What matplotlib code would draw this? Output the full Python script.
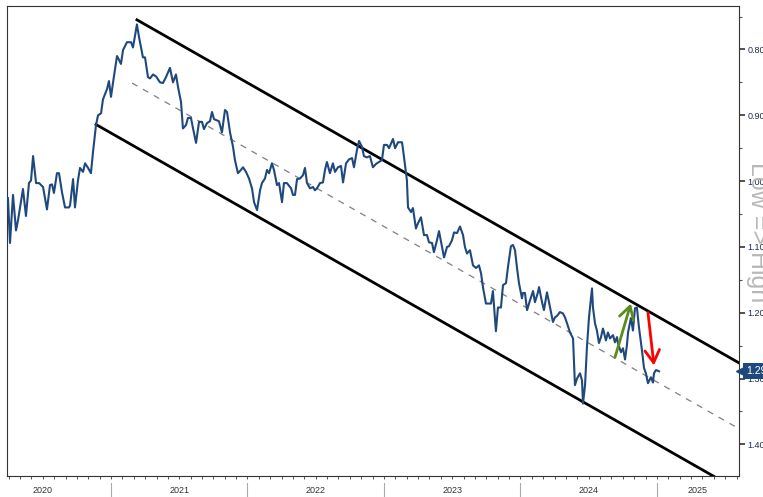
import numpy as np
import matplotlib
matplotlib.use("Agg")
from matplotlib import pyplot as plt
from matplotlib.ticker import MultipleLocator, FixedLocator, NullFormatter
import matplotlib.transforms as mtransforms

# weekly series, x in decimal years, y (inverted axis)
t = [2020.245, 2020.260, 2020.282, 2020.304, 2020.319, 2020.355, 2020.377, 2020.399, 2020.414, 2020.429,
     2020.451, 2020.473, 2020.502, 2020.531, 2020.553, 2020.568, 2020.582, 2020.604, 2020.619, 2020.641,
     2020.663, 2020.692, 2020.700, 2020.722, 2020.736, 2020.758, 2020.773, 2020.795, 2020.810, 2020.832,
     2020.853, 2020.868, 2020.890, 2020.905, 2020.927, 2020.941, 2020.971, 2020.985, 2021.000, 2021.015,
     2021.044, 2021.059, 2021.073, 2021.088, 2021.117, 2021.147, 2021.161, 2021.190, 2021.205, 2021.234,
     2021.249, 2021.271, 2021.286, 2021.308, 2021.330, 2021.359, 2021.381, 2021.403, 2021.432, 2021.454,
     2021.476, 2021.491, 2021.513, 2021.527, 2021.549, 2021.564, 2021.586, 2021.601, 2021.623, 2021.645,
     2021.667, 2021.681, 2021.703, 2021.725, 2021.740, 2021.755, 2021.791, 2021.813, 2021.835, 2021.850,
     2021.872, 2021.894, 2021.908, 2021.930, 2021.952, 2021.967, 2021.989, 2022.011, 2022.033, 2022.048,
     2022.070, 2022.092, 2022.106, 2022.128, 2022.143, 2022.158, 2022.179, 2022.194, 2022.216, 2022.231,
     2022.253, 2022.267, 2022.289, 2022.319, 2022.333, 2022.348, 2022.363, 2022.385, 2022.407, 2022.421,
     2022.436, 2022.458, 2022.480, 2022.494, 2022.509, 2022.531, 2022.553, 2022.568, 2022.582, 2022.604,
     2022.626, 2022.641, 2022.663, 2022.685, 2022.700, 2022.722, 2022.744, 2022.766, 2022.780, 2022.802,
     2022.817, 2022.839, 2022.853, 2022.875, 2022.897, 2022.919, 2022.941, 2022.963, 2022.985, 2023.000,
     2023.022, 2023.037, 2023.066, 2023.081, 2023.103, 2023.132, 2023.147, 2023.168, 2023.176, 2023.198,
     2023.212, 2023.234, 2023.249, 2023.271, 2023.293, 2023.315, 2023.330, 2023.352, 2023.366, 2023.388,
     2023.403, 2023.425, 2023.440, 2023.462, 2023.476, 2023.498, 2023.513, 2023.535, 2023.557, 2023.579,
     2023.593, 2023.608, 2023.630, 2023.652, 2023.674, 2023.696, 2023.711, 2023.725, 2023.747, 2023.784,
     2023.798, 2023.820, 2023.835, 2023.857, 2023.872, 2023.894, 2023.908, 2023.930, 2023.945, 2023.960,
     2023.974, 2023.989, 2024.011, 2024.018, 2024.033, 2024.048, 2024.070, 2024.092, 2024.106, 2024.128,
     2024.136, 2024.158, 2024.172, 2024.194, 2024.209, 2024.238, 2024.253, 2024.267, 2024.289, 2024.311,
     2024.326, 2024.341, 2024.363, 2024.385, 2024.399, 2024.414, 2024.436, 2024.451, 2024.458, 2024.473,
     2024.487, 2024.502, 2024.524, 2024.531, 2024.546, 2024.560, 2024.575, 2024.590, 2024.604, 2024.612,
     2024.626, 2024.641, 2024.656, 2024.678, 2024.692, 2024.707, 2024.714, 2024.736, 2024.751, 2024.766,
     2024.780, 2024.788, 2024.809, 2024.824, 2024.839, 2024.853, 2024.868, 2024.890, 2024.905, 2024.919,
     2024.934, 2024.956, 2024.971, 2024.978, 2024.993, 2025.015]
v = [1.026, 1.094, 1.021, 1.075, 1.059, 1.012, 1.053, 1.003, 0.999, 0.962,
     1.003, 1.003, 1.009, 1.043, 1.006, 1.005, 1.018, 0.988, 0.988, 1.017,
     1.040, 1.040, 1.037, 0.997, 1.040, 0.999, 0.980, 0.986, 0.973, 0.980,
     0.988, 0.956, 0.915, 0.900, 0.897, 0.876, 0.860, 0.848, 0.872, 0.850,
     0.810, 0.816, 0.822, 0.801, 0.789, 0.789, 0.797, 0.762, 0.781, 0.812,
     0.812, 0.842, 0.844, 0.838, 0.841, 0.850, 0.851, 0.842, 0.828, 0.850,
     0.838, 0.857, 0.880, 0.920, 0.915, 0.904, 0.904, 0.920, 0.942, 0.910,
     0.910, 0.921, 0.912, 0.909, 0.895, 0.906, 0.909, 0.926, 0.892, 0.895,
     0.926, 0.948, 0.968, 0.988, 0.983, 0.979, 0.986, 0.996, 1.011, 1.032,
     1.044, 1.014, 1.003, 0.996, 0.983, 0.988, 0.973, 0.983, 1.006, 1.003,
     1.032, 1.003, 1.003, 1.011, 1.021, 1.021, 0.997, 0.996, 0.991, 0.980,
     1.003, 1.011, 1.009, 1.014, 1.011, 1.003, 1.002, 0.983, 0.971, 0.988,
     0.973, 0.986, 0.979, 0.977, 1.002, 0.973, 0.967, 0.965, 0.979, 0.953,
     0.939, 0.948, 0.962, 0.964, 0.962, 0.979, 0.974, 0.971, 0.968, 0.945,
     0.945, 0.950, 0.936, 0.950, 0.941, 0.941, 0.964, 0.999, 1.040, 1.047,
     1.041, 1.072, 1.064, 1.055, 1.082, 1.082, 1.093, 1.094, 1.108, 1.090,
     1.076, 1.100, 1.116, 1.100, 1.099, 1.090, 1.078, 1.079, 1.069, 1.082,
     1.100, 1.110, 1.105, 1.128, 1.132, 1.128, 1.140, 1.161, 1.186, 1.186,
     1.167, 1.228, 1.192, 1.192, 1.158, 1.155, 1.131, 1.099, 1.097, 1.105,
     1.131, 1.155, 1.178, 1.170, 1.170, 1.196, 1.181, 1.167, 1.184, 1.169,
     1.161, 1.184, 1.196, 1.169, 1.184, 1.214, 1.207, 1.205, 1.199, 1.201,
     1.207, 1.216, 1.230, 1.239, 1.310, 1.300, 1.292, 1.303, 1.338, 1.310,
     1.252, 1.207, 1.163, 1.192, 1.216, 1.227, 1.246, 1.237, 1.224, 1.230,
     1.242, 1.230, 1.239, 1.234, 1.245, 1.237, 1.246, 1.260, 1.254, 1.271,
     1.249, 1.230, 1.208, 1.227, 1.193, 1.192, 1.222, 1.257, 1.284, 1.292,
     1.307, 1.298, 1.306, 1.292, 1.287, 1.289]

# channel lines (start, end)
upper_t = [2021.190, 2025.608]
upper_v = [0.755, 1.277]
lower_t = [2020.890, 2025.700]
lower_v = [0.914, 1.482]
mid_t = [2021.154, 2025.608]
mid_v = [0.851, 1.377]

# arrows (from, to)
green_arrow = [(2024.692, 1.268), (2024.809, 1.186)]
red_arrow = [(2024.934, 1.200), (2024.978, 1.280)]

years = [2020, 2021, 2022, 2023, 2024, 2025]
year_centers = [2020.5, 2021.5, 2022.5, 2023.5, 2024.5, 2025.3]
yticks = [0.80, 0.90, 1.00, 1.10, 1.20, 1.30, 1.40]
last_label = "1.29"

navy = "#1f497d"
plt.rcParams['font.family'] = ['Liberation Sans', 'DejaVu Sans']

fig = plt.figure(figsize=(7.63, 4.97), dpi=100)
ax = fig.add_axes([7 / 763, 21 / 497, 732 / 763, 470 / 497])

ax.plot(t, v, color=navy, lw=1.5, zorder=4)
ax.plot(upper_t, upper_v, color='black', lw=2.0, zorder=3)
ax.plot(lower_t, lower_v, color='black', lw=2.0, zorder=3)
ax.plot(mid_t, mid_v, color='#808080', lw=0.9, dashes=(5, 5), zorder=2)

for (a, b), c in [(green_arrow, '#5b8c1a'), (red_arrow, '#ff0000')]:
    ax.annotate('', xy=b, xytext=a,
                arrowprops=dict(arrowstyle='->,head_length=0.6,head_width=0.35', color=c, lw=2.0,
                                shrinkA=0, shrinkB=0, mutation_scale=15), zorder=5)

ax.set_xlim(2020.238, 2025.601)
ax.set_ylim(1.448, 0.734)

for s in ax.spines.values():
    s.set_color('#333333')
    s.set_linewidth(0.8)

# y axis on right
ax.yaxis.tick_right()
ax.yaxis.set_major_locator(FixedLocator(yticks))
ax.yaxis.set_minor_locator(MultipleLocator(0.05))
ax.set_yticklabels(["%.2f" % y for y in yticks])
ax.tick_params(axis='y', which='major', length=4, width=1.2, pad=2, labelsize=6.5,
               colors='#333333', labelcolor='#1c2d4f', right=True, left=False)
ax.tick_params(axis='y', which='minor', length=2, width=0.8, colors='#555555', right=True, left=False)

# x axis: monthly ticks, year labels below
ax.xaxis.set_major_locator(FixedLocator([]))
ax.xaxis.set_minor_locator(MultipleLocator(1 / 12))
ax.xaxis.set_minor_formatter(NullFormatter())
ax.tick_params(axis='x', which='minor', length=2.5, width=0.7, colors='#555555')

trans = mtransforms.blended_transform_factory(ax.transData, ax.transAxes)
for yr in years[1:]:
    ax.plot([yr, yr], [-0.015, -0.045], transform=trans, color='#aaaaaa', lw=0.8, clip_on=False)
for yr, xc in zip(years, year_centers):
    ax.text(xc, -0.03, str(yr), transform=trans, ha='center', va='center',
            fontsize=6.5, color='#333333')

# last value tag
ty = mtransforms.blended_transform_factory(ax.transAxes, ax.transData)
ax.plot([1.004], [v[-1]], marker='<', ms=9, color=navy, transform=ty, clip_on=False, zorder=6)
ax.text(1.010, v[-1], last_label, transform=ty, ha='left', va='center', fontsize=7.5,
        color='white', zorder=7, clip_on=False,
        bbox=dict(boxstyle='square,pad=0.3', fc=navy, ec='none'))

# watermark, mostly cut off by the right edge
fig.text(758 / 763, 1 - 232 / 497, "Low => High", rotation=-90, ha='center', va='center',
         fontsize=18, color='#b8b8b8', zorder=0)

fig.savefig("out.png", dpi=100)
